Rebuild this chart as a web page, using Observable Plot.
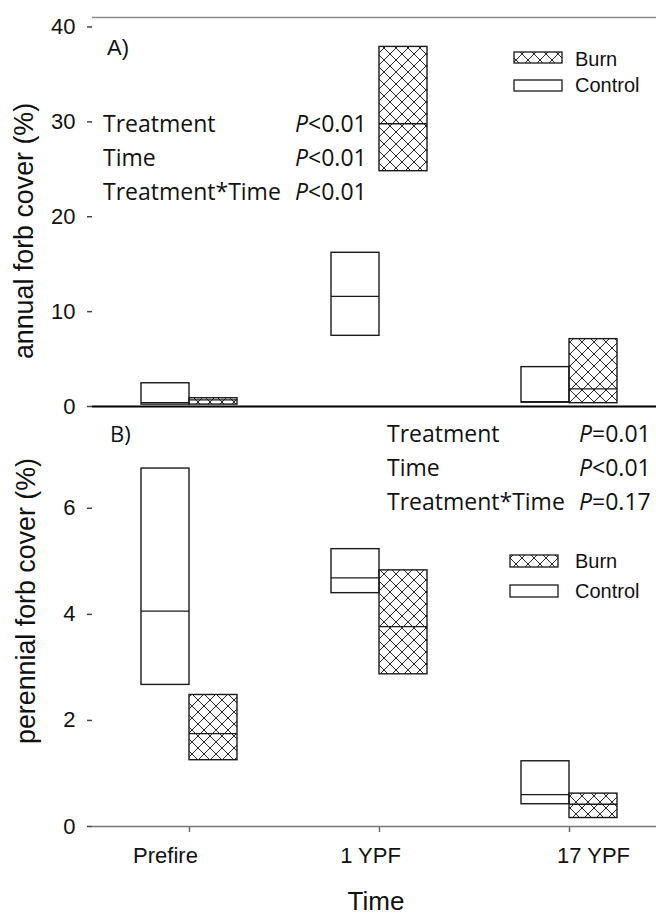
<!DOCTYPE html>
<html>
<head>
<meta charset="utf-8">
<script src="https://cdn.jsdelivr.net/npm/d3@7"></script>
<script src="https://cdn.jsdelivr.net/npm/@observablehq/plot@0.6"></script>
<style>
  body { margin: 0; background: #fff; }
  #wrap { position: relative; width: 656px; height: 916px; overflow: hidden; background: #fff; }
  #wrap > svg { position: absolute; left: 0; }
  #overlay { position: absolute; left: 0; top: 0; pointer-events: none; }
</style>
</head>
<body>
<div id="wrap"></div>
<script>
// ---------------- data ----------------
const times = ["Prefire", "1 YPF", "17 YPF"];
const treatments = ["Control", "Burn"];

// annual forb cover (%) — box bottom, middle line, box top
const annualControlLow  = [0.2, 7.45, 0.4];
const annualControlMid  = [0.4, 11.6, 0.5];
const annualControlHigh = [2.45, 16.2, 4.15];
const annualBurnLow     = [0.2, 24.8, 0.35];
const annualBurnMid     = [0.7, 29.8, 1.85];
const annualBurnHigh    = [0.87, 37.9, 7.1];

// perennial forb cover (%) — box bottom, middle line, box top
const perennialControlLow  = [2.67, 4.4, 0.42];
const perennialControlMid  = [4.06, 4.69, 0.6];
const perennialControlHigh = [6.75, 5.23, 1.23];
const perennialBurnLow     = [1.25, 2.87, 0.16];
const perennialBurnMid     = [1.75, 3.77, 0.42];
const perennialBurnHigh    = [2.48, 4.83, 0.62];

const annualTicks = [0, 10, 20, 30, 40];
const perennialTicks = [0, 2, 4, 6];

const statTerms = ["Treatment", "Time", "Treatment*Time"];
const annualP = ["<0.01", "<0.01", "<0.01"];
const perennialP = ["=0.01", "<0.01", "=0.17"];

const annualLabel = "annual forb cover (%)";
const perennialLabel = "perennial forb cover (%)";
const xTitle = "Time";

// ---------------- build tables ----------------
function rows(lo, mid, hi, treatment) {
  return times.map((t, i) => ({ time: t, treatment, lo: lo[i], mid: mid[i], hi: hi[i] }));
}
const annualControl = rows(annualControlLow, annualControlMid, annualControlHigh, "Control");
const annualBurn = rows(annualBurnLow, annualBurnMid, annualBurnHigh, "Burn");
const perennialControl = rows(perennialControlLow, perennialControlMid, perennialControlHigh, "Control");
const perennialBurn = rows(perennialBurnLow, perennialBurnMid, perennialBurnHigh, "Burn");

// ---------------- layout ----------------
const W = 656;
const half = 48;               // half of band = one box width
const xScale = { domain: times, paddingInner: 0.496, paddingOuter: 0.2285, align: 0.552 };
const labelShift = [-24, -9, 24];
const boxStroke = "#1a1a1a";
const svgStyle = { background: "transparent", overflow: "visible", color: "#111",
  fontFamily: "'Liberation Sans', Arial, sans-serif" };

function boxMarks(control, burn) {
  return [
    Plot.barY(control, { x: "time", y1: "lo", y2: "hi", fill: "white", stroke: boxStroke, strokeWidth: 1.4, insetRight: half }),
    Plot.barY(burn, { x: "time", y1: "lo", y2: "hi", fill: "url(#xhatch)", stroke: boxStroke, strokeWidth: 1.4, insetLeft: half }),
    Plot.tickY(control, { x: "time", y: "mid", stroke: boxStroke, strokeWidth: 1.3, insetRight: half }),
    Plot.tickY(burn, { x: "time", y: "mid", stroke: boxStroke, strokeWidth: 1.3, insetLeft: half })
  ];
}

const topPlot = Plot.plot({
  width: W, height: 408, marginTop: 17, marginBottom: 2, marginLeft: 92, marginRight: 0,
  style: svgStyle,
  x: { ...xScale, axis: null },
  y: { domain: [0, 41] },
  marks: [
    Plot.ruleY([41], { stroke: "#8a8a8a", strokeWidth: 1.5 }),
    Plot.axisY({ ticks: annualTicks, tickSize: 5, tickPadding: 12, fontSize: 22, label: null, line: true, stroke: "#444", strokeWidth: 1.5 }),
    ...boxMarks(annualControl, annualBurn),
    Plot.ruleY([0], { stroke: "#000", strokeWidth: 2 })
  ]
});

const bottomPlot = Plot.plot({
  width: W, height: 510, marginTop: 0, marginBottom: 90, marginLeft: 92, marginRight: 0,
  style: svgStyle,
  x: { ...xScale },
  y: { domain: [0, 7.92] },
  marks: [
    Plot.axisY({ ticks: perennialTicks, tickSize: 5, tickPadding: 12, fontSize: 22, label: null, line: true, stroke: "#444", strokeWidth: 1.5 }),
    Plot.axisX({ tickSize: 6, tickFormat: () => "", label: null, stroke: "#666", strokeWidth: 1.5 }),
    ...times.map((t, i) => Plot.text([t], { x: d => d, text: d => d, frameAnchor: "bottom", lineAnchor: "top", dy: 21, dx: labelShift[i], fontSize: 22 })),
    ...boxMarks(perennialControl, perennialBurn),
    Plot.ruleY([0], { stroke: "#777", strokeWidth: 1.5 })
  ]
});

const wrap = document.getElementById("wrap");
topPlot.style.top = "0px";
bottomPlot.style.top = "406px";
wrap.appendChild(topPlot);
wrap.appendChild(bottomPlot);

// ---------------- overlay: pattern, annotations, legends, axis titles ----------------
const ov = d3.select(wrap).append("svg").attr("id", "overlay").attr("width", W).attr("height", 916);
const pat = ov.append("defs").append("pattern").attr("id", "xhatch")
  .attr("patternUnits", "userSpaceOnUse").attr("width", 12).attr("height", 12);
pat.append("path")
  .attr("d", "M0,0L12,12M12,0L0,12M-3,9L3,15M9,-3L15,3M-3,3L3,-3M9,15L15,9")
  .attr("stroke", "#2a2a2a").attr("stroke-width", 1).attr("fill", "none");

const sans = "'Liberation Sans', Arial, sans-serif";
const stat = "'Open Sans', sans-serif";

ov.append("text").attr("x", 107).attr("y", 55).attr("font-family", sans).attr("font-size", 22).attr("fill", "#111").text("A)");
ov.append("text").attr("x", 110).attr("y", 442).attr("font-family", stat).attr("font-size", 22).attr("fill", "#111").text("B)");

function stats(x0, xp, baselines, pvals) {
  statTerms.forEach((term, i) => {
    ov.append("text").attr("x", x0).attr("y", baselines[i]).attr("font-family", stat).attr("font-size", 23).attr("fill", "#111").text(term);
    const t = ov.append("text").attr("x", xp).attr("y", baselines[i]).attr("font-family", stat).attr("font-size", 23).attr("fill", "#111");
    t.append("tspan").attr("font-style", "italic").text("P");
    t.append("tspan").text(pvals[i]);
  });
}
stats(103, 295, [132, 166, 200], annualP);
stats(387, 579, [442, 476, 510], perennialP);

function legend(x, yBurn, yCtrl, textX, bBurn, bCtrl, h) {
  ov.append("rect").attr("x", x).attr("y", yBurn).attr("width", 48).attr("height", h)
    .attr("fill", "url(#xhatch)").attr("stroke", boxStroke).attr("stroke-width", 1.3);
  ov.append("rect").attr("x", x).attr("y", yCtrl).attr("width", 48).attr("height", h)
    .attr("fill", "white").attr("stroke", boxStroke).attr("stroke-width", 1.3);
  ov.append("text").attr("x", textX).attr("y", bBurn).attr("font-family", sans).attr("font-size", 20).attr("fill", "#111").text(treatments[1]);
  ov.append("text").attr("x", textX).attr("y", bCtrl).attr("font-family", sans).attr("font-size", 20).attr("fill", "#111").text(treatments[0]);
}
legend(514, 52, 80, 575, 66, 92, 11);
legend(510, 555, 585, 575, 568, 598, 12);

ov.append("text").attr("transform", "translate(33,231) rotate(-90)").attr("text-anchor", "middle")
  .attr("font-family", sans).attr("font-size", 26.8).attr("fill", "#111").text(annualLabel);
ov.append("text").attr("transform", "translate(35,601) rotate(-90)").attr("text-anchor", "middle")
  .attr("font-family", sans).attr("font-size", 26.8).attr("fill", "#111").text(perennialLabel);
ov.append("text").attr("x", 376).attr("y", 910).attr("text-anchor", "middle")
  .attr("font-family", sans).attr("font-size", 26).attr("fill", "#111").text(xTitle);
</script>
</body>
</html>
